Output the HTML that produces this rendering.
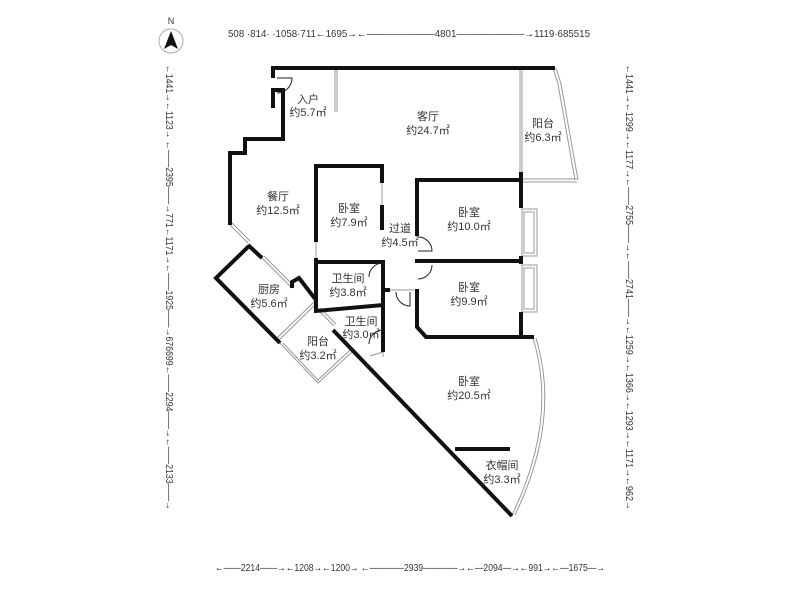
<!DOCTYPE html>
<html><head><meta charset="utf-8"><style>
html,body{margin:0;padding:0;background:#fff;}
svg{display:block}
text{font-family:"Liberation Sans","Noto Sans CJK SC",sans-serif;fill:#333}
.l{font-size:11px;text-anchor:middle}
.d{font-size:10.5px}
</style></head><body>
<svg width="800" height="600" viewBox="0 0 800 600" xmlns="http://www.w3.org/2000/svg">
<circle cx="171" cy="41" r="12" fill="none" stroke="#aaa" stroke-width="1"/>
<polygon points="171,31 164,49 171,45 178,49" fill="#111"/>
<text x="171" y="24" class="l" style="font-size:9px">N</text>
<text x="228" y="37" class="d" textLength="362" lengthAdjust="spacingAndGlyphs">508 ·814· ·1058·711←1695→←———————4801———————→1119·685515</text>
<text x="215" y="571" class="d" textLength="390" lengthAdjust="spacingAndGlyphs">←——2214——→←1208→←1200→ ←————2939————→←—2094—→←991→←—1675—→</text>
<text transform="translate(166,65) rotate(90)" class="d" textLength="445" lengthAdjust="spacingAndGlyphs">←1441→←1123→ ←——2395——→771←1171→←——1925——→676699←——2294——→←——2133——→</text>
<text transform="translate(626,65) rotate(90)" class="d" textLength="445" lengthAdjust="spacingAndGlyphs">←1441→←1299→←1177→←——2755——→←——2741——→←1259→←1366→←1293→←1171→←962→</text>

<g fill="none" stroke="#999" stroke-width="1">
<line x1="335" y1="68" x2="335" y2="112"/><line x1="337" y1="68" x2="337" y2="112"/>
<line x1="520" y1="68" x2="520" y2="178"/><line x1="522" y1="68" x2="522" y2="178"/>
<polyline points="553,68 558,84 575,180"/><polyline points="556,68 561,84 578,180"/>
<line x1="523" y1="179" x2="577" y2="179"/><line x1="523" y1="182" x2="577" y2="182"/>
<line x1="229" y1="224" x2="248" y2="243"/><line x1="231" y1="222" x2="250" y2="241"/>
<line x1="262" y1="258" x2="292" y2="288"/><line x1="264" y1="256" x2="294" y2="286"/>
<line x1="275" y1="340" x2="314" y2="302"/><line x1="277" y1="342" x2="316" y2="304"/>
<polyline points="280,343 318,383 352,352"/><polyline points="283,343 318,380 350,350"/>
<line x1="318" y1="310" x2="334" y2="326"/><line x1="320" y1="308" x2="336" y2="324"/>
<path d="M533,338 Q558,420 512,515"/><path d="M536,338 Q561,420 515,515"/>
<line x1="382" y1="183" x2="382" y2="205"/>
<line x1="316" y1="242" x2="316" y2="258"/>
<rect x="522" y="209" width="15" height="47"/><rect x="524" y="212" width="10" height="41"/>
<rect x="522" y="265" width="15" height="47"/><rect x="524" y="268" width="10" height="41"/>
<polyline points="383,357 383,352 370,356"/>
<line x1="390" y1="290" x2="414" y2="290"/>
</g>
<g fill="none" stroke="#111" stroke-width="4" stroke-linejoin="miter">
<polyline points="555,68 273,68 273,78"/>
<polyline points="273,108 273,90 283,90 283,139 245,139 245,153 230,153 230,225"/>
<polyline points="249,246 216,278 280,343"/>
<line x1="248" y1="245" x2="262" y2="258"/>
<polyline points="292,288 292,282 299,278 316,300"/>
<line x1="333" y1="330" x2="512" y2="516"/>
<polyline points="382,183 382,166 316,166 316,242"/>
<line x1="382" y1="205" x2="382" y2="230"/>
<polyline points="316,258 316,311 383,305 383,262 314,262"/>
<line x1="383" y1="290" x2="390" y2="290"/>
<line x1="383" y1="305" x2="383" y2="352"/>
<polyline points="417,236 417,180 521,180 521,208"/>
<line x1="521" y1="172" x2="521" y2="180"/>
<line x1="415" y1="261" x2="522" y2="261"/>
<line x1="521" y1="256" x2="521" y2="264"/>
<polyline points="417,289 417,327 426,337 534,337"/>
<line x1="521" y1="312" x2="521" y2="337"/>
<line x1="455" y1="449" x2="510" y2="449"/>
</g>
<g fill="none" stroke="#222" stroke-width="1">
<path d="M277,78 L292,78 A15,15 0 0 1 277,93"/>
<path d="M418,237 A14,14 0 0 1 432,251 L418,251"/>
<path d="M432,265 A14,14 0 0 1 418,279"/>
<path d="M383,263 A14,14 0 0 0 369,277"/>
<path d="M396,292 A14,14 0 0 0 410,306 L410,292"/>
<path d="M383,330 A14,14 0 0 0 369,344"/>
</g>
<g class="l">
<text x="308" y="103">入户</text><text x="308" y="116">约5.7㎡</text>
<text x="428" y="120">客厅</text><text x="428" y="134">约24.7㎡</text>
<text x="543" y="127">阳台</text><text x="543" y="141">约6.3㎡</text>
<text x="278" y="200">餐厅</text><text x="278" y="214">约12.5㎡</text>
<text x="349" y="212">卧室</text><text x="349" y="226">约7.9㎡</text>
<text x="400" y="232">过道</text><text x="400" y="246">约4.5㎡</text>
<text x="469" y="216">卧室</text><text x="469" y="230">约10.0㎡</text>
<text x="348" y="282">卫生间</text><text x="348" y="296">约3.8㎡</text>
<text x="469" y="291">卧室</text><text x="469" y="305">约9.9㎡</text>
<text x="269" y="293">厨房</text><text x="269" y="307">约5.6㎡</text>
<text x="361" y="325">卫生间</text><text x="361" y="338">约3.0㎡</text>
<text x="318" y="345">阳台</text><text x="318" y="359">约3.2㎡</text>
<text x="469" y="385">卧室</text><text x="469" y="399">约20.5㎡</text>
<text x="502" y="469">衣帽间</text><text x="502" y="483">约3.3㎡</text>
</g>
</svg>
</body></html>
